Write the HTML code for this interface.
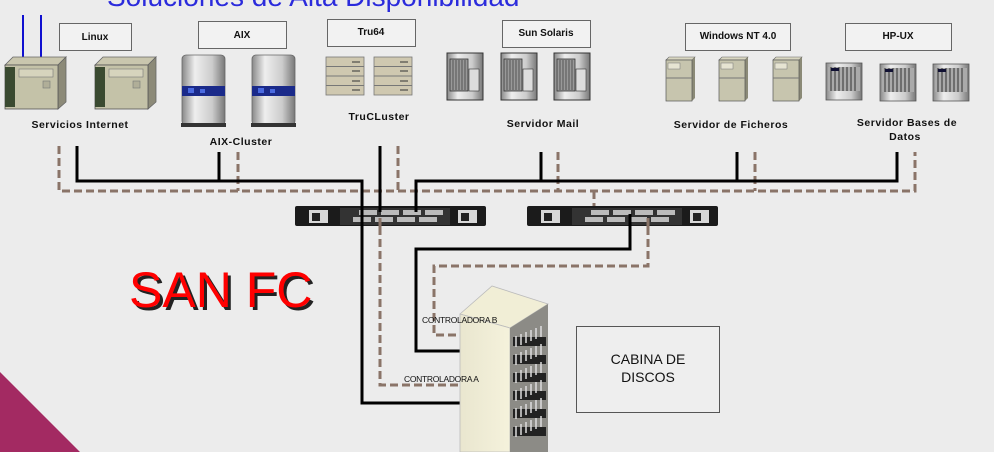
<!DOCTYPE html>
<html><head><meta charset="utf-8"><style>
html,body{margin:0;padding:0;background:#ececec;}
svg{display:block;}
text{font-family:"Liberation Sans",sans-serif;}
</style></head><body>
<svg width="994" height="452" viewBox="0 0 994 452" xmlns="http://www.w3.org/2000/svg">
<defs>
<linearGradient id="silver" x1="0" x2="1"><stop offset="0" stop-color="#888"/><stop offset="0.3" stop-color="#eee"/><stop offset="0.7" stop-color="#ccc"/><stop offset="1" stop-color="#777"/></linearGradient>
<linearGradient id="beige" x1="0" x2="1"><stop offset="0" stop-color="#e9e6cf"/><stop offset="1" stop-color="#f5f2dc"/></linearGradient>
<g id="linux">
 <polygon points="0,8 8,0 61,0 53,8" fill="#c9c6ae" stroke="#666" stroke-width="0.8"/>
 <polygon points="53,8 61,0 61,45 53,52" fill="#8c8a78" stroke="#666" stroke-width="0.8"/>
 <rect x="0" y="8" width="53" height="44" fill="#c4c2a8" stroke="#555" stroke-width="0.8"/>
 <rect x="0" y="10" width="10" height="40" fill="#3a4a30"/>
 <rect x="14" y="12" width="34" height="8" fill="#d6d4bd" stroke="#777" stroke-width="0.6"/>
 <rect x="38" y="24" width="7" height="7" fill="#b0ae98" stroke="#777" stroke-width="0.6"/>
</g>
<g id="aix">
 <rect x="0" y="0" width="43" height="70" rx="4" fill="url(#silver)" stroke="#666" stroke-width="0.8"/>
 <rect x="0" y="31" width="43" height="10" fill="#1a2a8a"/>
 <rect x="6" y="33" width="6" height="5" fill="#4a6ae0"/>
 <rect x="18" y="34" width="5" height="4" fill="#4a6ae0"/>
 <rect x="-1" y="68" width="45" height="4" fill="#333"/>
</g>
<g id="tru">
 <rect x="0" y="0" width="38" height="38" fill="#cfc8b0" stroke="#777" stroke-width="0.8"/>
 <line x1="0" y1="9.5" x2="38" y2="9.5" stroke="#777"/><line x1="0" y1="19" x2="38" y2="19" stroke="#777"/><line x1="0" y1="28.5" x2="38" y2="28.5" stroke="#777"/>
 <line x1="26" y1="5" x2="34" y2="5" stroke="#333"/><line x1="26" y1="14" x2="34" y2="14" stroke="#333"/><line x1="26" y1="24" x2="34" y2="24" stroke="#333"/><line x1="26" y1="33" x2="34" y2="33" stroke="#333"/>
</g>
<g id="sun">
 <rect x="0" y="0" width="36" height="47" fill="url(#silver)" stroke="#333" stroke-width="1"/>
 <rect x="3" y="6" width="18" height="32" fill="#999" stroke="#333" stroke-width="0.8"/>
 <path d="M6 7v30M9 7v30M12 7v30M15 7v30M18 7v30" stroke="#444" stroke-width="0.8"/>
 <rect x="22" y="16" width="10" height="22" fill="#ddd" stroke="#333" stroke-width="0.6"/>
</g>
<g id="win">
 <polygon points="0,3 3,0 29,0 26,3" fill="#d8d6c0" stroke="#666" stroke-width="0.6"/>
 <polygon points="26,3 29,0 29,41 26,44" fill="#8b8a77"/>
 <rect x="0" y="3" width="26" height="41" fill="#c7c5ae" stroke="#555" stroke-width="0.7"/>
 <rect x="2" y="6" width="12" height="6" fill="#e6e4d2" stroke="#777" stroke-width="0.5"/>
 <line x1="0" y1="21" x2="26" y2="21" stroke="#777"/>
</g>
<g id="hp">
 <rect x="0" y="0" width="36" height="37" fill="url(#silver)" stroke="#555" stroke-width="0.8"/>
 <rect x="2" y="4" width="32" height="24" fill="#aaa"/>
 <path d="M5 4v24M9 4v24M13 4v24M17 4v24M21 4v24M25 4v24M29 4v24" stroke="#333" stroke-width="1"/>
 <rect x="5" y="5" width="8" height="3" fill="#113"/>
</g>
<g id="sw">
 <rect x="0" y="0" width="191" height="20" rx="2" fill="#1b1b1b"/>
 <rect x="14" y="4" width="19" height="13" fill="#d8d8d8"/><rect x="17" y="7" width="8" height="8" fill="#222"/>
 <rect x="163" y="4" width="19" height="13" fill="#d8d8d8"/><rect x="166" y="7" width="8" height="8" fill="#222"/>
 <rect x="45" y="2" width="110" height="17" fill="#333"/>
 <rect x="64" y="4" width="18" height="5" fill="#bbb"/><rect x="86" y="4" width="18" height="5" fill="#bbb"/><rect x="108" y="4" width="18" height="5" fill="#bbb"/><rect x="130" y="4" width="18" height="5" fill="#bbb"/>
 <rect x="58" y="11" width="18" height="5" fill="#bbb"/><rect x="80" y="11" width="18" height="5" fill="#bbb"/><rect x="102" y="11" width="18" height="5" fill="#bbb"/><rect x="124" y="11" width="18" height="5" fill="#bbb"/>
</g>
</defs>

<rect width="994" height="452" fill="#ececec"/>
<polygon points="0,372 80,452 0,452" fill="#a32a62"/>

<text x="107" y="6" font-size="28" fill="#2b2bdc">Soluciones de Alta Disponibilidad</text>

<g fill="#f2f2f2" stroke="#666" stroke-width="1">
<rect x="59.5" y="23.5" width="72" height="27"/>
<rect x="198.5" y="21.5" width="88" height="27"/>
<rect x="327.5" y="19.5" width="88" height="27"/>
<rect x="502.5" y="20.5" width="88" height="27"/>
<rect x="685.5" y="23.5" width="105" height="27"/>
<rect x="845.5" y="23.5" width="106" height="27"/>
</g>
<g font-size="10" font-weight="bold" text-anchor="middle" fill="#111">
<text x="95" y="40">Linux</text>
<text x="242" y="38">AIX</text>
<text x="371" y="35">Tru64</text>
<text x="546" y="36">Sun Solaris</text>
<text x="738" y="39">Windows NT 4.0</text>
<text x="898" y="39">HP-UX</text>
</g>

<line x1="23" y1="15" x2="23" y2="60" stroke="#1010d0" stroke-width="2"/>
<line x1="41" y1="15" x2="41" y2="60" stroke="#1010d0" stroke-width="2"/>
<use href="#linux" x="5" y="57"/><use href="#linux" x="95" y="57"/>
<use href="#aix" x="182" y="55"/><use href="#aix" x="252" y="55"/>
<use href="#tru" x="326" y="57"/><use href="#tru" x="374" y="57"/>
<use href="#sun" x="447" y="53"/><use href="#sun" x="501" y="53"/><use href="#sun" x="554" y="53"/>
<use href="#win" x="666" y="57"/><use href="#win" x="719" y="57"/><use href="#win" x="773" y="57"/>
<use href="#hp" x="826" y="63"/><use href="#hp" x="880" y="64"/><use href="#hp" x="933" y="64"/>

<g font-size="10.5" font-weight="bold" text-anchor="middle" fill="#111" letter-spacing="0.5">
<text x="80" y="128">Servicios Internet</text>
<text x="241" y="145">AIX-Cluster</text>
<text x="379" y="120">TruCLuster</text>
<text x="543" y="127">Servidor Mail</text>
<text x="731" y="128">Servidor de Ficheros</text>
<text x="907" y="126">Servidor Bases de</text>
<text x="905" y="140">Datos</text>
</g>

<!-- dashed brown -->
<g fill="none" stroke="#8a7468" stroke-width="3" stroke-dasharray="8,4">
<path d="M59 146V191H915V152"/>
<path d="M238 152V191"/><path d="M398 146V191"/><path d="M558 152V191"/><path d="M755 152V191"/>
<path d="M594 191V208"/>
<path d="M380 215V385H460"/>
<path d="M648 215V266H434V335H460"/>
</g>
<!-- black -->
<g fill="none" stroke="#000" stroke-width="3">
<path d="M77 146V181H362V403H460"/>
<path d="M219 152V181"/>
<path d="M380 146V210"/>
<path d="M416 210V181H897V152"/>
<path d="M541 152V181"/><path d="M737 152V181"/>
<path d="M630 215V249H416V351H460"/>
</g>

<use href="#sw" x="295" y="206"/>
<use href="#sw" x="527" y="206"/>
<!-- redraw lines crossing switches -->
<g stroke-width="3" fill="none">
<path d="M362 200V230" stroke="#000"/>
<path d="M380 200V212" stroke="#000"/>
<path d="M416 200V212" stroke="#000"/>
<path d="M630 214V230" stroke="#000"/>
<path d="M380 218V230" stroke="#8a7468"/>
<path d="M648 218V230" stroke="#8a7468"/>
</g>

<!-- cabinet -->
<polygon points="460,314 492,286 548,304 510,328" fill="#f1eed6" stroke="#bbb" stroke-width="0.8"/>
<polygon points="460,314 510,328 510,452 460,452" fill="url(#beige)" stroke="#bbb" stroke-width="0.8"/>
<polygon points="510,328 548,304 548,452 510,452" fill="#8c8b86"/>
<g fill="#222">
<rect x="513" y="337" width="33" height="9"/><rect x="513" y="355" width="33" height="9"/><rect x="513" y="373" width="33" height="9"/><rect x="513" y="391" width="33" height="9"/><rect x="513" y="409" width="33" height="9"/><rect x="513" y="427" width="33" height="9"/>
</g>
<g stroke="#ddd" stroke-width="1.5">
<path d="M516 336v11M521 334v11M526 332v11M531 330v11M536 328v11M541 326v11"/>
<path d="M516 354v11M521 352v11M526 350v11M531 348v11M536 346v11M541 344v11"/>
<path d="M516 372v11M521 370v11M526 368v11M531 366v11M536 364v11M541 362v11"/>
<path d="M516 390v11M521 388v11M526 386v11M531 384v11M536 382v11M541 380v11"/>
<path d="M516 408v11M521 406v11M526 404v11M531 402v11M536 400v11M541 398v11"/>
<path d="M516 426v11M521 424v11M526 422v11M531 420v11M536 418v11M541 416v11"/>
</g>

<g font-size="8.5" fill="#111" letter-spacing="-0.3">
<text x="422" y="323">CONTROLADORA B</text>
<text x="404" y="382">CONTROLADORA A</text>
</g>

<rect x="576.5" y="326.5" width="143" height="86" fill="#eeeeee" stroke="#555" stroke-width="1"/>
<g font-size="14" text-anchor="middle" fill="#111">
<text x="648" y="364">CABINA DE</text>
<text x="648" y="382">DISCOS</text>
</g>

<text x="132" y="310" font-size="50" fill="#222">SAN FC</text>
<text x="129" y="307" font-size="50" fill="#f00">SAN FC</text>
</svg>
</body></html>
